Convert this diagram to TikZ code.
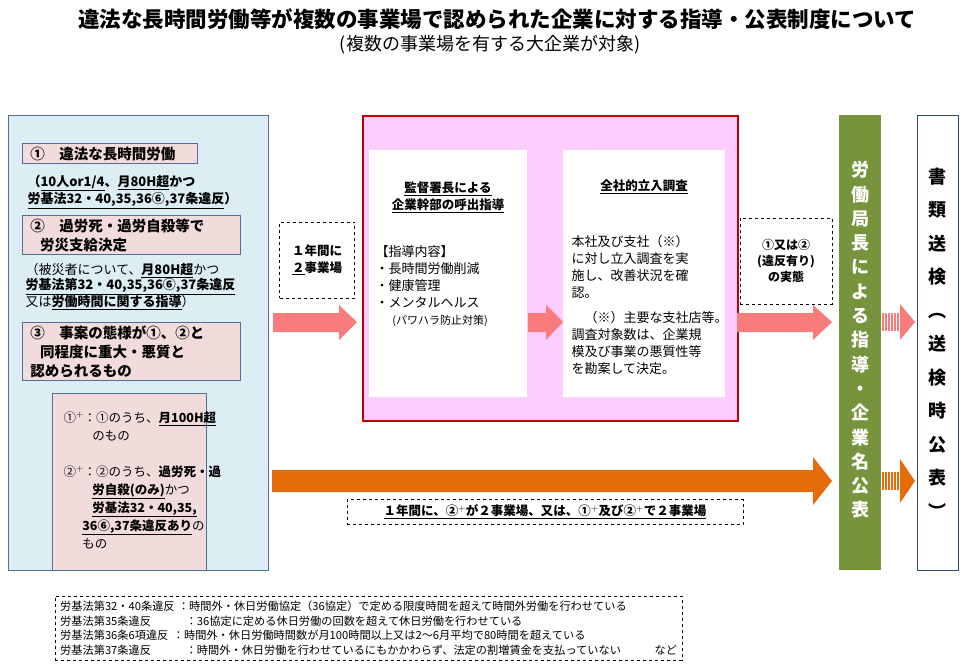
\documentclass[tikz,border=0pt]{standalone}
\usepackage{fontspec}
\setmainfont{Noto Sans CJK JP}
\usetikzlibrary{positioning,arrows.meta}
\definecolor{leftblue}{HTML}{DCEEF4}
\definecolor{edgeblue}{HTML}{4F6F9F}
\definecolor{rosefill}{HTML}{F2DCDB}
\definecolor{pinkfill}{HTML}{FFCCFF}
\definecolor{darkred}{HTML}{C00000}
\definecolor{salmon}{HTML}{F87C7C}
\definecolor{burnt}{HTML}{E46C0A}
\definecolor{olive}{HTML}{77933C}
\definecolor{navy}{HTML}{2F4A6E}
\newcommand{\ul}[1]{\underline{#1}}

\begin{document}
\begin{tikzpicture}[
x=1pt,y=-1pt,
casebox/.style={
	draw=edgeblue,
	line width=1.2pt,
	fill=rosefill,
	anchor=north west,
	inner sep=3pt,
	align=left,
	font=\bfseries\fontsize{14.5}{19}\selectfont
},
note/.style={
	anchor=north west,
	align=left,
	font=\fontsize{13}{15}\selectfont
},
dashbox/.style={
	draw,
	dashed,
	fill=white,
	align=center
}
]
\useasboundingbox (0,0) rectangle (967,667);

% title
\node[font=\bfseries\fontsize{21.5}{24}\selectfont] (title) at (497,19)
{違法な長時間労働等が複数の事業場で認められた企業に対する指導・公表制度について};
\node[font=\fontsize{18}{20}\selectfont] (subtitle) at (490,45)
{(複数の事業場を有する大企業が対象)};

% left column
\node[draw=edgeblue,line width=1.2pt,fill=leftblue,minimum width=260pt,minimum height=455pt,anchor=north west] (left) at (8,115) {};
\node[casebox,text width=169pt] (c1) at (22,143) {\ ①\quad 違法な長時間労働};
\node[note,font=\bfseries\fontsize{13}{15}\selectfont] (n1) at (24,172)
{（\ul{10人or1/4}、\ul{月80H超}かつ\\ \ul{労基法32・40,35,36⑥,37条違反}）};
\node[casebox,text width=212pt] (c2) at (22,215) {\ ②\quad 過労死・過労自殺等で\\ \quad 労災支給決定};
\node[note] (n2) at (22,260)
{（被災者について、\textbf{\ul{月80H超}}かつ\\ \textbf{\ul{労基法第32・40,35,36⑥,37条違反}}\\ 又は\textbf{\ul{労働時間に関する指導}}）};
\node[casebox,text width=212pt] (c3) at (22,322) {\ ③\quad 事案の態様が①、②と\\ \quad 同程度に重大・悪質と\\ \ 認められるもの};
\node[draw=edgeblue,line width=1.2pt,fill=rosefill,minimum width=154pt,minimum height=177pt,anchor=north west] (plus) at (52,393) {};
\node[note,font=\fontsize{12.5}{18}\selectfont] (p1) at (60,408)
{①$^{+}$：①のうち、\textbf{\ul{月100H超}}\\ \hspace{2.3em}のもの};
\node[note,font=\fontsize{12.5}{18}\selectfont] (p2) at (60,462)
{②$^{+}$：②のうち、\textbf{過労死・過}\\ \hspace{2.3em}\textbf{\ul{労自殺(のみ)}}かつ\\ \hspace{2.3em}\textbf{\ul{労基法32・40,35,}}\\ \hspace{1.5em}\textbf{\ul{36⑥,37条違反あり}}の\\ \hspace{1.5em}もの};

% first step
\node[dashbox,minimum width=75pt,minimum height=76pt,font=\bfseries\fontsize{12.5}{17}\selectfont] (year1) at (317,260) {１年間に\\ \ul{２}事業場};
\fill[salmon] (273,313) -- (339,313) -- (339,305) -- (357,322) -- (339,340) -- (339,332) -- (273,332) -- cycle;

% middle box
\node[draw=darkred,line width=1.5pt,fill=pinkfill,minimum width=375pt,minimum height=305pt,anchor=north west] (mid) at (362,115) {};
\node[fill=white,minimum width=158pt,minimum height=247pt,anchor=north west] (call) at (369,150) {};
\node[fill=white,minimum width=162pt,minimum height=247pt,anchor=north west] (check) at (563,150) {};
\node[font=\bfseries\fontsize{12.5}{17}\selectfont,align=center] (callhead) at (448,197) {\ul{監督署長による}\\ \ul{企業幹部の呼出指導}};
\node[note,font=\fontsize{13}{17}\selectfont] (callbody) at (372,242)
{【指導内容】\\ ・長時間労働削減\\ ・健康管理\\ ・メンタルヘルス\\ \hspace{1.3em}{\fontsize{11}{14}\selectfont (パワハラ防止対策)}};
\node[font=\bfseries\fontsize{12.5}{17}\selectfont] (checkhead) at (644,187) {\ul{全社的立入調査}};
\node[note,font=\fontsize{13}{17}\selectfont] (checkbody) at (568,232)
{本社及び支社（※）\\ に対し立入調査を実\\ 施し、改善状況を確\\ 認。\\[8pt] \hspace{1em}（※）主要な支社店等。\\ 調査対象数は、企業規\\ 模及び事業の悪質性等\\ を勘案して決定。};
\fill[salmon] (528,313) -- (546,313) -- (546,305) -- (563,322) -- (546,340) -- (546,332) -- (528,332) -- cycle;

% second step
\node[dashbox,minimum width=92pt,minimum height=86pt,font=\bfseries\fontsize{12}{16}\selectfont] (fact) at (786,261) {①又は②\\ (違反有り)\\ の実態};
\fill[salmon] (737,313) -- (813,313) -- (813,305) -- (832,322) -- (813,340) -- (813,332) -- (737,332) -- cycle;

% orange route
\fill[burnt] (272,470) -- (813,470) -- (813,457) -- (832,481) -- (813,505) -- (813,492) -- (272,492) -- cycle;
\node[dashbox,minimum width=396pt,minimum height=25pt,font=\bfseries\fontsize{12.5}{15}\selectfont] (year2) at (545,512)
{\ul{１年間に、②$^{+}$が２事業場、又は、①$^{+}$及び②$^{+}$で２事業場}};

% bureau and prosecution
\node[fill=olive,minimum width=42pt,minimum height=455pt,anchor=north west] (bureau) at (839,115) {};
\node[text=white,font=\bfseries\fontsize{18}{24.3}\selectfont,align=center] (bureautext) at (860,340)
{労\\働\\局\\長\\に\\よ\\る\\指\\導\\・\\企\\業\\名\\公\\表};
\node[draw=navy,line width=1.2pt,fill=white,minimum width=41pt,minimum height=455pt,anchor=north west] (court) at (917,115) {};
\node[font=\bfseries\fontsize{18}{33.5}\selectfont,align=center] (courttext) at (937,343)
{書\\類\\送\\検\\︵\\送\\検\\時\\公\\表\\︶};

% striped arrows
\foreach \c/\yy/\h in {salmon/322/18,burnt/481/22}{
	\foreach \xx in {883,886,...,898}
		\draw[\c,line width=1.6pt] (\xx,\yy-9) -- (\xx,\yy+9);
	\fill[\c] (900,\yy-\h) -- (915,\yy) -- (900,\yy+\h) -- cycle;
}

% legend
\node[dashbox,anchor=north west,align=left,inner sep=5pt,font=\fontsize{11.2}{14.6}\selectfont] (legend) at (55,596)
{労基法第32・40条違反\hspace{0.3em}：時間外・休日労働協定（36協定）で定める限度時間を超えて時間外労働を行わせている\\
労基法第35条違反\hspace{3.1em}：36協定に定める休日労働の回数を超えて休日労働を行わせている\\
労基法第36条6項違反\hspace{0.4em}：時間外・休日労働時間数が月100時間以上又は2～6月平均で80時間を超えている\\
労基法第37条違反\hspace{3.1em}：時間外・休日労働を行わせているにもかかわらず、法定の割増賃金を支払っていない\hspace{3em}など};
\end{tikzpicture}
\end{document}
